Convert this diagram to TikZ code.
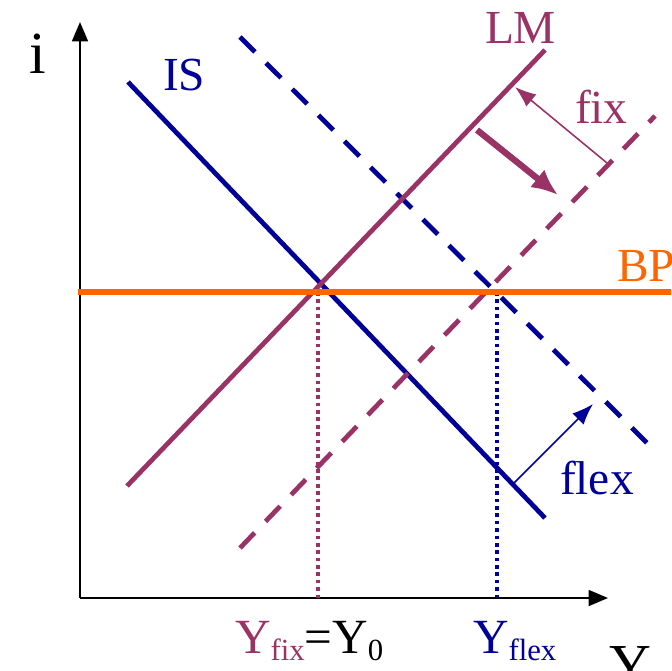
\documentclass[tikz,border=0pt]{standalone}
\usepackage{fontspec}
\setmainfont{Liberation Serif}
\usetikzlibrary{arrows.meta}
\definecolor{isblue}{RGB}{0,0,153}
\definecolor{lmpurple}{RGB}{153,51,102}
\definecolor{bporange}{RGB}{255,102,0}
\newcommand{\lowsub}[1]{\raisebox{-4.5pt}{\fontsize{17.5}{19}\selectfont #1}}
\tikzset{
  curve/.style={line width=2.7pt},
  shifted/.style={curve, dash pattern=on 12pt off 9pt},
  guide/.style={line width=2.1pt, dash pattern=on 2.1pt off 2.1pt},
  axis/.style={line width=1.2pt, -{Triangle[length=11pt, width=9pt]}},
  lbl/.style={inner sep=0, outer sep=0, font=\fontsize{27}{30}\selectfont},
  ylbl/.style={lbl, font=\fontsize{28}{30}\selectfont},
}
\begin{document}
\begin{tikzpicture}[x=0.02cm, y=-0.02cm]
      \useasboundingbox (0,0) rectangle (671,671);

      % axes
      \coordinate (origin) at (80,598);
      \coordinate (i-top) at (80,22);
      \coordinate (y-end) at (608,598);
      \draw[axis] (origin) -- (i-top);
      \draw[axis] (origin) -- (y-end);
      \node[lbl, anchor=base, font=\fontsize{34}{36}\selectfont] (i-lbl) at (38,74) {i};
      \node[lbl, anchor=base, font=\fontsize{33}{36}\selectfont] (y-lbl) at (630,684) {Y};

      % curves
      \coordinate (is-a) at (128,82);
      \coordinate (is-b) at (545,518);
      \coordinate (is2-a) at (240,37);
      \coordinate (is2-b) at (652,448);
      \coordinate (lm-a) at (127,486);
      \coordinate (lm-b) at (545,50);
      \coordinate (lm2-a) at (240,548);
      \coordinate (lm2-b) at (655,116);
      \coordinate (bp-a) at (78,292);
      \coordinate (bp-b) at (671,292);

      \draw[curve, isblue] (is-a) -- (is-b);
      \draw[shifted, isblue] (is2-a) -- (is2-b);
      \draw[curve, lmpurple] (lm-a) -- (lm-b);
      \draw[shifted, lmpurple] (lm2-a) -- (lm2-b);

      % income levels
      \coordinate (fix-top) at (318,292);
      \coordinate (fix-bot) at (318,598);
      \coordinate (flex-top) at (497,292);
      \coordinate (flex-bot) at (497,598);
      \draw[guide, lmpurple] (fix-top) -- (fix-bot);
      \draw[guide, isblue] (flex-top) -- (flex-bot);

      \draw[curve, bporange, line width=3.3pt] (bp-a) -- (bp-b);

      % shifts
      \coordinate (fix-tail) at (607,163);
      \coordinate (fix-tip) at (515,87);
      \draw[lmpurple, line width=0.9pt, -{Latex[length=12pt, width=9pt]}] (fix-tail) -- (fix-tip);
      \coordinate (move-tail) at (477,130);
      \coordinate (move-tip) at (558,195);
      \draw[lmpurple, line width=3.6pt, -{Latex[length=15pt, width=13pt]}] (move-tail) -- (move-tip);
      \coordinate (flex-tail) at (514,483);
      \coordinate (flex-tip) at (593,404);
      \draw[isblue, line width=0.9pt, -{Latex[length=12pt, width=9pt]}] (flex-tail) -- (flex-tip);

      % labels
      \node[lbl, isblue, anchor=base west] (is-lbl) at (163,91) {IS};
      \node[lbl, lmpurple, anchor=base west] (lm-lbl) at (485,44) {LM};
      \node[lbl, bporange, anchor=base west] (bp-lbl) at (617,282) {BP};
      \node[lbl, lmpurple, anchor=base west] (fix-lbl) at (575,124) {fix};
      \node[lbl, isblue, anchor=base west] (flex-lbl) at (560,494) {flex};
      \node[ylbl, anchor=base west] (yfix-lbl) at (235,653)
        {\textcolor{lmpurple}{Y\lowsub{fix}}=Y\lowsub{0}};
      \node[ylbl, isblue, anchor=base west] (yflex-lbl) at (473,653)
        {Y\lowsub{flex}};
\end{tikzpicture}
\end{document}
